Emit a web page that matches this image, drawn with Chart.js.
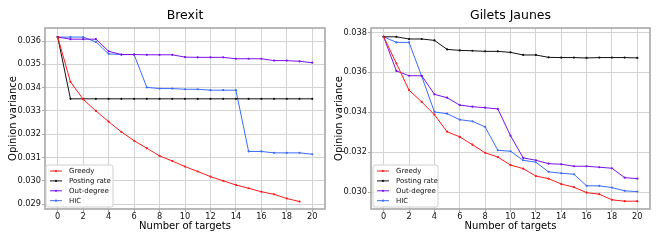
<!DOCTYPE html>
<html>
<head>
<meta charset="utf-8">
<script src="https://cdn.jsdelivr.net/npm/chart.js@4/dist/chart.umd.min.js"></script>
<style>
  html, body { margin: 0; padding: 0; background: #fff; }
  .wrap { position: absolute; top: 0; width: 329px; height: 240px; }
  #w1 { left: 0; }
  #w2 { left: 329px; }
</style>
</head>
<body>
<div class="wrap" id="w1"><canvas id="c1"></canvas></div>
<div class="wrap" id="w2"><canvas id="c2"></canvas></div>
<script>
// ---- data ----
const targets = [0,1,2,3,4,5,6,7,8,9,10,11,12,13,14,15,16,17,18,19,20];
const seriesNames = ["Greedy", "Posting rate", "Out-degree", "HIC"];
const seriesColors = ["#ff1a1a", "#111111", "#7a10ef", "#3a6bff"];

const brexitGreedy  = [0.03617,0.03425,0.03350,0.03300,0.03254,0.03210,0.03172,0.03140,0.03107,0.03085,0.03061,0.03040,0.03018,0.03000,0.02982,0.02968,0.02953,0.02942,0.02924,0.02911];
const brexitPosting = [0.03617,0.03352,0.03352,0.03352,0.03352,0.03352,0.03352,0.03352,0.03352,0.03352,0.03352,0.03352,0.03352,0.03352,0.03352,0.03352,0.03352,0.03352,0.03352,0.03352,0.03352];
const brexitOutDeg  = [0.03617,0.03608,0.03608,0.03608,0.03556,0.03542,0.03542,0.03541,0.03541,0.03541,0.03531,0.03530,0.03530,0.03530,0.03524,0.03524,0.03524,0.03516,0.03516,0.03513,0.03507];
const brexitHIC     = [0.03617,0.03617,0.03617,0.03596,0.03545,0.03542,0.03542,0.03401,0.03396,0.03396,0.03393,0.03393,0.03389,0.03389,0.03389,0.03126,0.03126,0.03120,0.03120,0.03120,0.03114];
const brexitYTicks  = [0.029,0.030,0.031,0.032,0.033,0.034,0.035,0.036];

const giletsGreedy  = [0.03778,0.03645,0.03511,0.03452,0.03388,0.03303,0.03277,0.03238,0.03197,0.03176,0.03136,0.03118,0.03081,0.03068,0.03041,0.03025,0.02998,0.02990,0.02962,0.02955,0.02955];
const giletsPosting = [0.03778,0.03778,0.03767,0.03767,0.03760,0.03715,0.03710,0.03708,0.03705,0.03705,0.03700,0.03687,0.03687,0.03675,0.03674,0.03674,0.03672,0.03674,0.03674,0.03674,0.03672];
const giletsOutDeg  = [0.03778,0.03607,0.03583,0.03583,0.03490,0.03473,0.03436,0.03428,0.03423,0.03417,0.03283,0.03172,0.03160,0.03143,0.03140,0.03130,0.03130,0.03125,0.03120,0.03073,0.03068];
const giletsHIC     = [0.03778,0.03750,0.03750,0.03580,0.03402,0.03393,0.03363,0.03355,0.03327,0.03210,0.03205,0.03160,0.03150,0.03102,0.03095,0.03090,0.03032,0.03032,0.03023,0.03007,0.03003];
const giletsYTicks  = [0.030,0.032,0.034,0.036,0.038];

const xTicks = [0,2,4,6,8,10,12,14,16,18,20];

// ---- helpers ----
const FONT = "'DejaVu Sans', sans-serif";
function toPts(arr) { return arr.map((v, i) => ({ x: targets[i], y: v })); }

const framePlugin = {
  id: 'frameLegend',
  afterDraw(chart, args, opts) {
    const ctx = chart.ctx, ca = chart.chartArea;
    ctx.save();
    // frame
    ctx.strokeStyle = '#a8a8a8';
    ctx.lineWidth = 1.6;
    ctx.strokeRect(ca.left, ca.top, ca.right - ca.left, ca.bottom - ca.top);
    // title
    ctx.fillStyle = '#000';
    ctx.font = "12.5px " + FONT;
    ctx.textAlign = 'center';
    ctx.textBaseline = 'middle';
    ctx.fillText(opts.title, (ca.left + ca.right) / 2, 16);
    // legend
    const lx = ca.left + opts.lx, ly = ca.bottom - 44, lw = opts.lw, lh = 42;
    ctx.beginPath();
    if (ctx.roundRect) ctx.roundRect(lx, ly, lw, lh, 2); else ctx.rect(lx, ly, lw, lh);
    ctx.fillStyle = 'rgba(255,255,255,0.85)';
    ctx.fill();
    ctx.strokeStyle = '#d0d0d0';
    ctx.lineWidth = 1;
    ctx.stroke();
    ctx.font = "7px " + FONT;
    ctx.textAlign = 'left';
    chart.data.datasets.forEach((ds, i) => {
      const y = ly + 6 + i * 9.9;
      ctx.strokeStyle = ds.borderColor;
      ctx.lineWidth = 1;
      ctx.beginPath();
      ctx.moveTo(lx + 4, y); ctx.lineTo(lx + 16, y); ctx.stroke();
      ctx.fillStyle = ds.borderColor;
      ctx.beginPath(); ctx.arc(lx + 10, y, 1.1, 0, Math.PI * 2); ctx.fill();
      ctx.fillStyle = '#111';
      ctx.fillText(ds.label, lx + 23, y + 0.5);
    });
    ctx.restore();
  }
};

function makeChart(id, title, series, yTicks, yMin, yMax, padRight, yWidth, yTitlePad, legendX, legendW) {
  const datasets = series.map((s, i) => ({
    label: seriesNames[i],
    data: toPts(s),
    borderColor: seriesColors[i],
    backgroundColor: seriesColors[i],
    borderWidth: 1,
    pointRadius: 1.1,
    pointHoverRadius: 1.1,
    pointBorderWidth: 0,
    tension: 0,
    fill: false
  }));
  return new Chart(document.getElementById(id), {
    type: 'line',
    data: { datasets },
    plugins: [framePlugin],
    options: {
      responsive: true,
      maintainAspectRatio: false,
      animation: false,
      events: [],
      layout: { padding: { top: 28, right: padRight, left: 0, bottom: 0 } },
      plugins: {
        legend: { display: false },
        title: { display: false },
        tooltip: { enabled: false },
        frameLegend: { title: title, lx: legendX, lw: legendW }
      },
      scales: {
        x: {
          type: 'linear',
          min: -1, max: 21,
          afterBuildTicks: s => { s.ticks = xTicks.map(v => ({ value: v })); },
          afterFit: s => { s.height = 31; },
          grid: { color: '#d3d3d3', lineWidth: 1, tickLength: 3, tickColor: '#a8a8a8', drawTicks: true },
          border: { display: false },
          ticks: { font: { family: FONT, size: 8.2 }, color: '#111', padding: 0, maxRotation: 0, autoSkip: false, callback: v => String(v) },
          title: { display: true, text: 'Number of targets', font: { family: FONT, size: 10 }, color: '#000', padding: { top: 0, bottom: 8 } }
        },
        y: {
          type: 'linear',
          min: yMin, max: yMax,
          afterBuildTicks: s => { s.ticks = yTicks.map(v => ({ value: v })); },
          afterFit: s => { s.width = yWidth; },
          grid: { color: '#d3d3d3', lineWidth: 1, tickLength: 3, tickColor: '#a8a8a8', drawTicks: true },
          border: { display: false },
          ticks: { font: { family: FONT, size: 8.2 }, color: '#111', padding: 1, autoSkip: false, callback: v => v.toFixed(3) },
          title: { display: true, text: 'Opinion variance', font: { family: FONT, size: 10 }, color: '#000', padding: { top: yTitlePad, bottom: 0 } }
        }
      }
    }
  });
}

makeChart('c1', 'Brexit', [brexitGreedy, brexitPosting, brexitOutDeg, brexitHIC], brexitYTicks, 0.02879, 0.03656, 4, 45, 7, 1, 67);
makeChart('c2', 'Gilets Jaunes', [giletsGreedy, giletsPosting, giletsOutDeg, giletsHIC], giletsYTicks, 0.02916, 0.03822, 8, 42, 4, 2, 65);
</script>
</body>
</html>
